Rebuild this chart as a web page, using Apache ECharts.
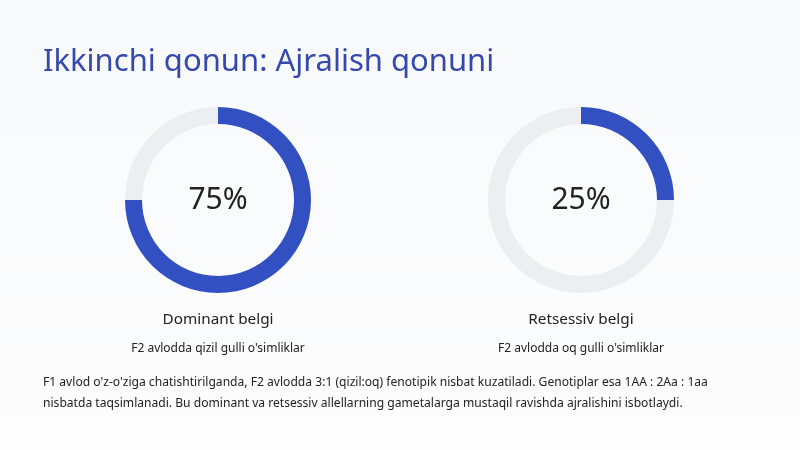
<!DOCTYPE html>
<html>
<head>
<meta charset="utf-8">
<script src="https://cdn.jsdelivr.net/npm/echarts@6/dist/echarts.min.js"></script>
<style>
html,body{margin:0;padding:0;width:800px;height:450px;overflow:hidden;}
#c{width:800px;height:450px;}
</style>
</head>
<body>
<div id="c"></div>
<script>
var titleText = "Ikkinchi qonun: Ajralish qonuni";
var categories = ["Dominant belgi", "Retsessiv belgi"];
var subtitles = ["F2 avlodda qizil gulli o'simliklar", "F2 avlodda oq gulli o'simliklar"];
var percents = [75, 25];
var paragraphLines = [
  "F1 avlod o'z-o'ziga chatishtirilganda, F2 avlodda 3:1 (qizil:oq) fenotipik nisbat kuzatiladi. Genotiplar esa 1AA : 2Aa : 1aa",
  "nisbatda taqsimlanadi. Bu dominant va retsessiv allellarning gametalarga mustaqil ravishda ajralishini isbotlaydi."
];

var FONT = "'Noto Sans', 'Open Sans', sans-serif";
var BLUE = "#3350c2";
var TRACK = "#eceef2";
var centersX = [218, 581];

var chart = echarts.init(document.getElementById('c'), null, {renderer: 'canvas'});

var series = percents.map(function (p, i) {
  return {
    type: 'pie',
    center: [centersX[i], 200],
    radius: [76, 93],
    startAngle: 90,
    clockwise: true,
    silent: true,
    avoidLabelOverlap: false,
    label: {
      show: true,
      position: 'center',
      formatter: function () { return p + '%'; },
      fontFamily: FONT,
      fontSize: 30,
      color: '#222222'
    },
    labelLine: {show: false},
    emphasis: {disabled: true},
    data: [
      {value: p, itemStyle: {color: BLUE}},
      {value: 100 - p, itemStyle: {color: TRACK}, label: {show: false}}
    ]
  };
});

var graphics = [
  {
    type: 'rect', z: -10, silent: true,
    shape: {x: 0, y: 0, width: 800, height: 450},
    style: {
      fill: new echarts.graphic.LinearGradient(0, 0, 0, 1, [
        {offset: 0, color: '#f8f9fa'},
        {offset: 1, color: '#fdfdfe'}
      ])
    }
  },
  {
    type: 'text', x: 43, y: 62,
    style: {text: titleText, fontFamily: FONT, fontSize: 31, fill: '#3548ad', textVerticalAlign: 'middle'}
  }
];

categories.forEach(function (c, i) {
  graphics.push({
    type: 'text', x: centersX[i], y: 320,
    style: {text: c, fontFamily: FONT, fontSize: 15.3, fill: '#222222', textAlign: 'center', textVerticalAlign: 'middle'}
  });
  graphics.push({
    type: 'text', x: centersX[i], y: 349,
    style: {text: subtitles[i], fontFamily: FONT, fontSize: 12, fill: '#222222', textAlign: 'center', textVerticalAlign: 'middle'}
  });
});

paragraphLines.forEach(function (line, i) {
  graphics.push({
    type: 'text', x: 43, y: 383 + i * 20.5,
    style: {text: line, fontFamily: FONT, fontSize: 12.1, fill: '#222222', textAlign: 'left', textVerticalAlign: 'middle'}
  });
});

chart.setOption({
  animation: false,
  backgroundColor: '#f9fafc',
  series: series,
  graphic: graphics
});
</script>
</body>
</html>
